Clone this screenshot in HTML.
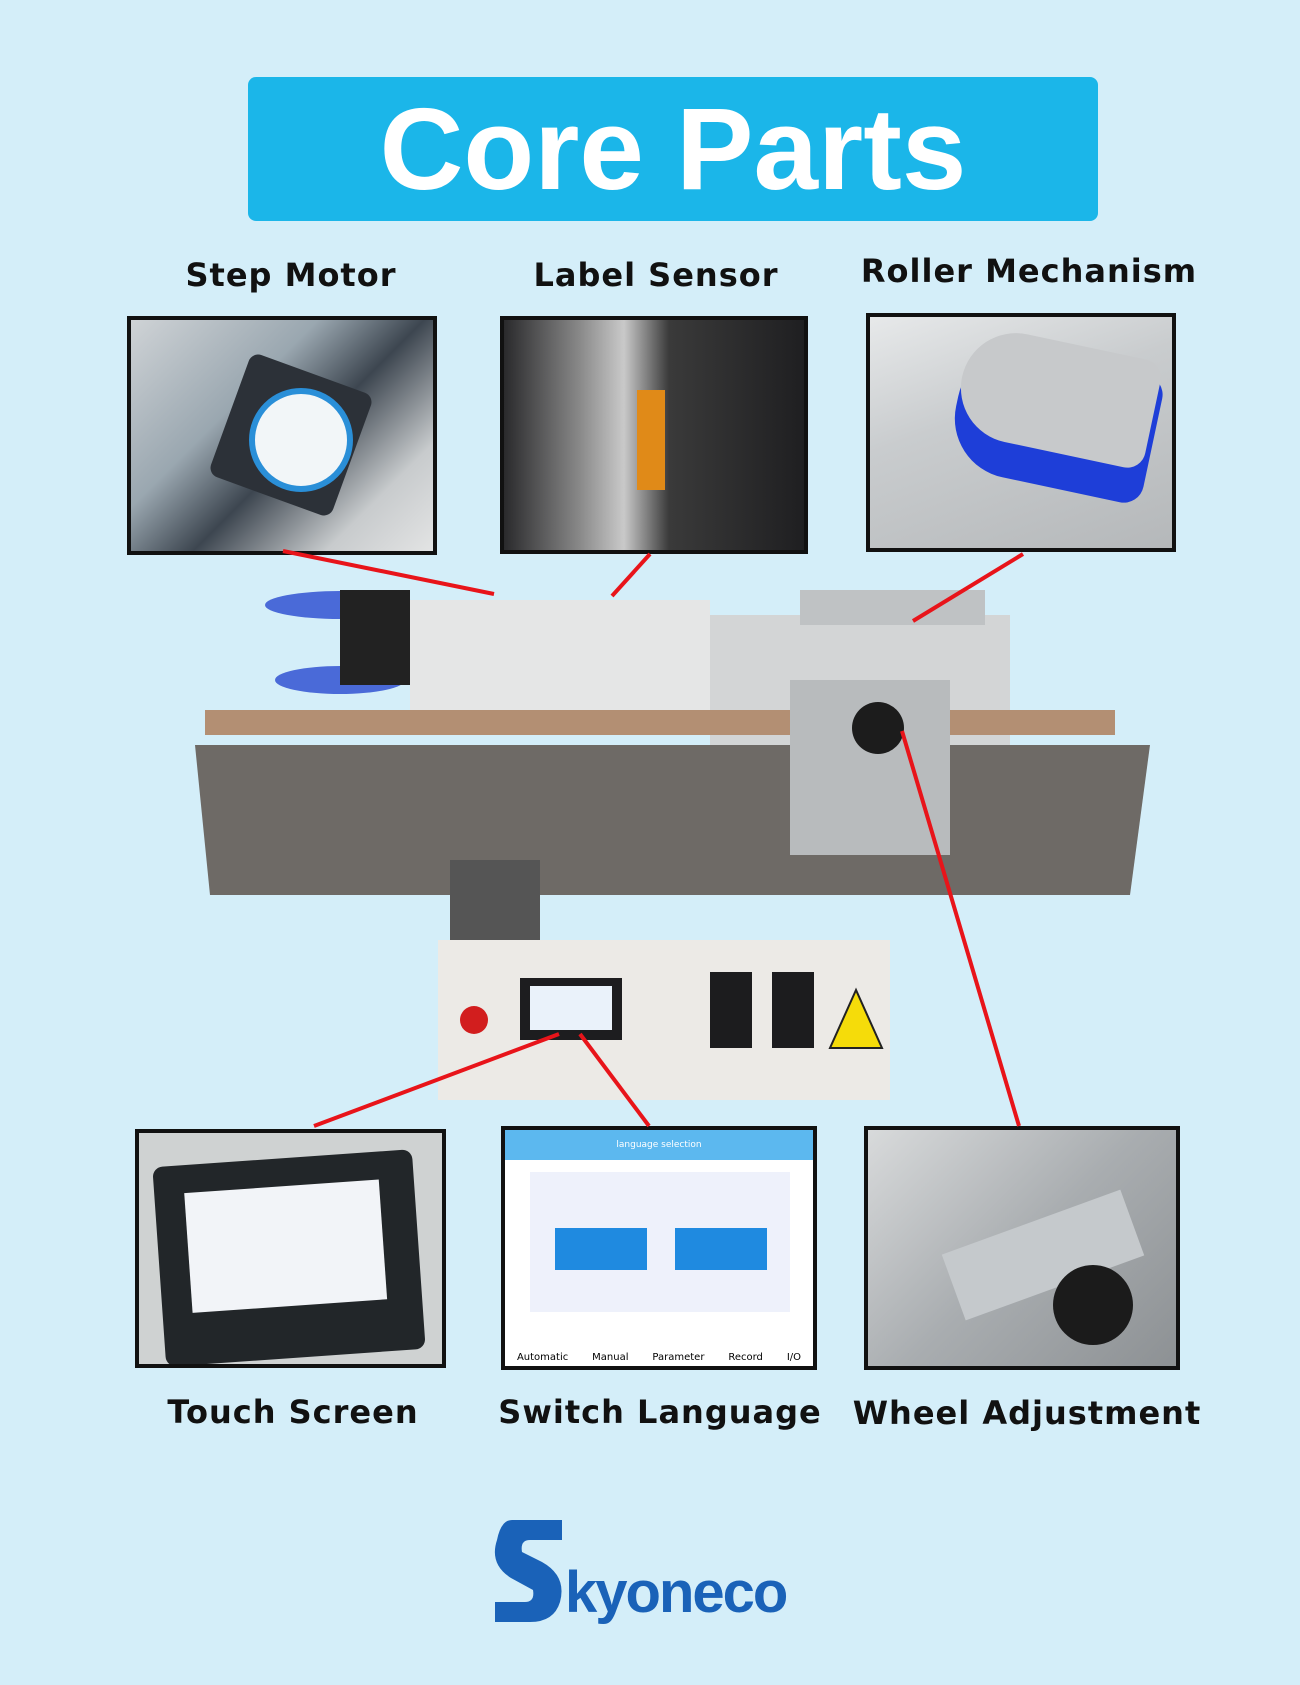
<!DOCTYPE html>
<html><head><meta charset="utf-8"><style>
html,body{margin:0;padding:0}
body{width:1300px;height:1685px;background:#d4eef9;position:relative;overflow:hidden;font-family:"DejaVu Sans","Liberation Sans",sans-serif}
.title{position:absolute;left:248px;top:77px;width:850px;height:144px;background:#1bb6e9;border-radius:8px;color:#fff;font-family:"Liberation Sans",sans-serif;font-weight:bold;font-size:116px;text-align:center;line-height:144px}
.lbl{position:absolute;font-weight:bold;font-size:32px;color:#111;white-space:nowrap;transform:translateX(-50%);letter-spacing:1px}
.ph{position:absolute;border:4px solid #111;box-sizing:border-box;overflow:hidden}
</style></head><body>
<div class="title">Core Parts</div>
<div class="lbl" style="left:291px;top:256px">Step Motor</div>
<div class="lbl" style="left:656px;top:256px">Label Sensor</div>
<div class="lbl" style="left:1029px;top:252px">Roller Mechanism</div>
<div class="lbl" style="left:293px;top:1393px">Touch Screen</div>
<div class="lbl" style="left:660px;top:1393px">Switch Language</div>
<div class="lbl" style="left:1027px;top:1394px">Wheel Adjustment</div>

<div class="ph" style="left:127px;top:316px;width:310px;height:239px;background:linear-gradient(135deg,#cfd3d6 0%,#9aa7b0 35%,#3d4650 55%,#c8cbcd 80%,#e3e4e4 100%)">
 <div style="position:absolute;left:95px;top:50px;width:130px;height:130px;background:#2c3138;transform:rotate(20deg);border-radius:10px"></div>
 <div style="position:absolute;left:118px;top:68px;width:92px;height:92px;border-radius:50%;background:#f2f6f8;border:6px solid #2a8fd8"></div>
</div>
<div class="ph" style="left:500px;top:316px;width:308px;height:238px;background:linear-gradient(90deg,#2a2a2c 0%,#888 25%,#c9c9c9 40%,#3a3a3a 55%,#1f1f21 100%)">
 <div style="position:absolute;left:133px;top:70px;width:28px;height:100px;background:#e08a18"></div>
</div>
<div class="ph" style="left:866px;top:313px;width:310px;height:239px;background:linear-gradient(160deg,#e7e9ea 0%,#c9ccce 40%,#b5b8ba 100%)">
 <div style="position:absolute;left:85px;top:40px;width:200px;height:130px;background:#1e3ed8;border-radius:60px 20px 20px 60px;transform:rotate(12deg)"></div>
 <div style="position:absolute;left:90px;top:25px;width:195px;height:110px;background:#c7c9cb;border-radius:60px 20px 20px 60px;transform:rotate(12deg)"></div>
</div>
<div class="ph" style="left:135px;top:1129px;width:311px;height:239px;background:#cfd2d2">
 <div style="position:absolute;left:20px;top:25px;width:260px;height:200px;background:#222629;border-radius:10px;transform:rotate(-4deg)">
  <div style="position:absolute;left:30px;top:28px;width:195px;height:120px;background:#f2f4f8"></div>
 </div>
</div>
<div class="ph" style="left:501px;top:1126px;width:316px;height:244px;background:#fff">
 <div style="position:absolute;left:0;top:0;width:100%;height:30px;background:#5cb8ef;font-size:9px;line-height:30px;color:#fff;text-align:center">language selection</div>
 <div style="position:absolute;left:25px;top:42px;width:260px;height:140px;background:#eef1fb"></div>
 <div style="position:absolute;left:50px;top:98px;width:92px;height:42px;background:#1f8ae0"></div>
 <div style="position:absolute;left:170px;top:98px;width:92px;height:42px;background:#1f8ae0"></div>
 <div style="position:absolute;left:0;width:100%;font-size:10px;display:flex;justify-content:space-around;top:222px">
  <span>Automatic</span><span>Manual</span><span>Parameter</span><span>Record</span><span>I/O</span></div>
</div>
<div class="ph" style="left:864px;top:1126px;width:316px;height:244px;background:linear-gradient(135deg,#d8dadb,#a9adb0 50%,#8d9194)">
 <div style="position:absolute;left:80px;top:90px;width:190px;height:70px;background:#c5c9cc;transform:rotate(-20deg)"></div>
 <div style="position:absolute;left:185px;top:135px;width:80px;height:80px;border-radius:50%;background:#1b1b1b"></div>
</div>

<svg width="1300" height="1685" style="position:absolute;left:0;top:0">
 <ellipse cx="340" cy="605" rx="75" ry="14" fill="#4a6ad8"/>
 <ellipse cx="340" cy="680" rx="65" ry="14" fill="#4a6ad8"/>
 <rect x="340" y="590" width="70" height="95" fill="#222"/>
 <rect x="410" y="600" width="300" height="110" fill="#e5e6e6"/>
 <rect x="710" y="615" width="300" height="130" fill="#d3d5d6"/>
 <rect x="800" y="590" width="185" height="35" fill="#bfc2c4"/>
 <rect x="205" y="710" width="910" height="25" fill="#b38f73"/>
 <polygon points="195,745 1150,745 1130,895 210,895" fill="#6e6a66"/>
 <rect x="790" y="680" width="160" height="175" fill="#b8bbbd"/>
 <circle cx="878" cy="728" r="26" fill="#1c1c1c"/>
 <rect x="450" y="860" width="90" height="80" fill="#555"/>
 <rect x="438" y="940" width="452" height="160" fill="#eceae6"/>
 <rect x="520" y="978" width="102" height="62" fill="#1d1d1f"/>
 <rect x="530" y="986" width="82" height="44" fill="#eaf2fa"/>
 <circle cx="474" cy="1020" r="14" fill="#d21e1e"/>
 <rect x="710" y="972" width="42" height="76" fill="#1c1c1e"/>
 <rect x="772" y="972" width="42" height="76" fill="#1c1c1e"/>
 <polygon points="856,990 830,1048 882,1048" fill="#f5dc0a" stroke="#222" stroke-width="2"/>
 <g stroke="#e8141a" stroke-width="4" fill="none">
  <line x1="283" y1="551" x2="494" y2="594"/>
  <line x1="650" y1="554" x2="612" y2="596"/>
  <line x1="1023" y1="554" x2="913" y2="621"/>
  <line x1="314" y1="1126" x2="559" y2="1034"/>
  <line x1="580" y1="1034" x2="649" y2="1126"/>
  <line x1="902" y1="731" x2="1019" y2="1126"/>
 </g>
 <path d="M512 1520 h50 v20 h-32 q-10 0 -8 12 l20 10 q25 14 18 40 q-6 20 -30 20 h-35 v-20 h30 q10 0 8 -12 l-22 -12 q-22 -14 -14 -38 q4 -20 15 -20z" fill="#1a62b8"/>
 <text x="565" y="1612" font-family="Liberation Sans,sans-serif" font-weight="bold" font-size="58" fill="#1a62b8" letter-spacing="-2">kyoneco</text>
</svg>
</body></html>
